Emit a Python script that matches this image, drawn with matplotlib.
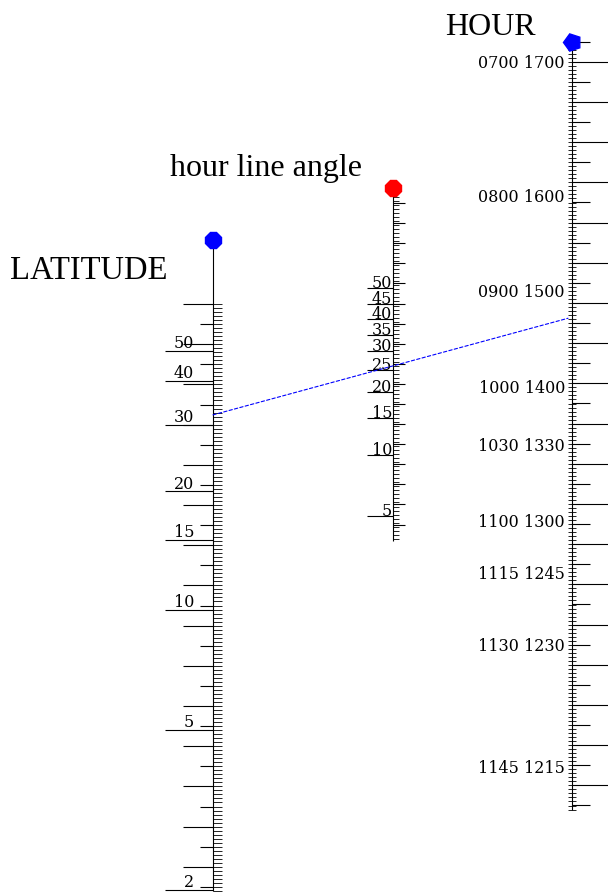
import numpy as np
import matplotlib.pyplot as plt
from matplotlib.patches import ConnectionPatch

# latitude scale, labelled values (degrees)
lat_labels = [50, 40, 30, 20, 15, 10, 5, 2]
# hour line angle scale, labelled values (degrees)
angle_labels = [50, 45, 40, 35, 30, 25, 20, 15, 10, 5]
# hour scale: morning / afternoon labels and hour angle from noon (degrees)
hour_am = ["0700", "0800", "0900", "1000", "1030", "1100", "1115", "1130", "1145"]
hour_pm = ["1700", "1600", "1500", "1400", "1330", "1300", "1245", "1230", "1215"]
hour_angle = [75, 60, 45, 30, 22.5, 15, 11.25, 7.5, 3.75]

# example isopleth: latitude and hour angle
iso_lat = 32.0
iso_hour_angle = 42.5


def u_lat(v):
    return np.log10(np.sin(np.radians(v)))


def u_tan(v):
    return np.log10(np.tan(np.radians(v)))


# layout (pixels)
W, H = 608, 892
LAT_X, MID_X, HOUR_X = 213, 393, 572
TICK_FONT = ["DejaVu Serif"]
TITLE_FONT = ["Liberation Serif", "DejaVu Serif"]

fig = plt.figure(figsize=(W / 100, H / 100), dpi=100)


def scale_axes(origin, px_per_unit):
    # axes whose y data is the scale variable u (log10 of the function)
    ax = fig.add_axes([0, 0, 1, 1], frameon=False)
    ax.set_xlim(0, W)
    ax.set_ylim((origin - H) / px_per_unit, origin / px_per_unit)
    ax.set_axis_off()
    return ax


ax_lat = scale_axes(304, 402)
ax_mid = scale_axes(303.5, 201)
ax_hour = scale_axes(303, 402)

lw = 0.8


def split_steps(top, bottom):
    # ticks every 0.05, split into tenths and odd halves
    steps = np.round(np.arange(top, bottom, -0.05), 2)
    tenth = np.isclose(np.round(steps * 10) / 10, steps)
    return steps[tenth], steps[~tenth]


# ---- latitude scale ----
lat_bottom = u_lat(2)
ax_lat.vlines(LAT_X, lat_bottom - 0.003, 0.16, color="black", lw=lw)
ax_lat.hlines(np.arange(0, lat_bottom - 0.005, -0.01), LAT_X, LAT_X + 9,
              color="black", lw=0.6)
major, half = split_steps(0, lat_bottom)
ax_lat.hlines(major, LAT_X - 30, LAT_X, color="black", lw=lw)
ax_lat.hlines(half, LAT_X - 13, LAT_X, color="black", lw=lw)
ax_lat.hlines(u_lat(np.array(lat_labels)), LAT_X - 48, LAT_X, color="black", lw=lw)
for v in lat_labels:
    ax_lat.annotate(str(v), (LAT_X - 19, u_lat(v)), xytext=(0, 2),
                    textcoords="offset points", ha="right", va="baseline",
                    fontsize=11.5, family=TICK_FONT)
ax_lat.plot(LAT_X, 0.16, marker="8", ms=13, color="blue", mec="blue")

# ---- hour line angle scale ----
mid_top, mid_bottom = 0.55, -1.18
ax_mid.vlines(MID_X, mid_bottom, mid_top + 0.03, color="black", lw=lw)
ax_mid.hlines(np.arange(mid_top, mid_bottom - 0.005, -0.02), MID_X, MID_X + 6,
              color="black", lw=0.6)
ax_mid.hlines(np.arange(0.5, mid_bottom, -0.1), MID_X, MID_X + 12, color="black", lw=lw)
ax_mid.hlines(u_tan(np.array(angle_labels)), MID_X - 26, MID_X, color="black", lw=lw)
for v in angle_labels:
    ax_mid.text(MID_X - 1, u_tan(v), str(v), ha="right", va="baseline",
                fontsize=11.5, family=TICK_FONT)
ax_mid.plot(MID_X, 0.575, marker="8", ms=13, color="red", mec="red")

# ---- hour scale ----
hour_top, hour_bottom = 0.65, -1.26
ax_hour.vlines(HOUR_X, hour_bottom, hour_top, color="black", lw=lw)
ax_hour.hlines(np.arange(hour_top, hour_bottom - 0.005, -0.01), HOUR_X - 4, HOUR_X + 4,
               color="black", lw=0.6)
major, half = split_steps(hour_top, hour_bottom)
ax_hour.hlines(major, HOUR_X, HOUR_X + 36, color="black", lw=lw)
ax_hour.hlines(half, HOUR_X, HOUR_X + 18, color="black", lw=lw)
for am, pm, ha_deg in zip(hour_am, hour_pm, hour_angle):
    ax_hour.annotate(f"{am} {pm}", (HOUR_X - 7, u_tan(ha_deg)), xytext=(0, 4),
                     textcoords="offset points", ha="right", va="baseline",
                     fontsize=11.5, family=TICK_FONT)
ax_hour.plot(HOUR_X, 0.65, marker=(5, 0, 90), ms=13, color="blue", mec="blue")

# ---- isopleth ----
iso = ConnectionPatch(xyA=(LAT_X, u_lat(iso_lat)), coordsA=ax_lat.transData,
                      xyB=(HOUR_X - 4, u_tan(iso_hour_angle)), coordsB=ax_hour.transData,
                      color="blue", lw=0.8, linestyle=(0, (3, 2)))
fig.add_artist(iso)

# ---- titles ----
ax0 = fig.add_axes([0, 0, 1, 1], frameon=False)
ax0.set_xlim(0, W)
ax0.set_ylim(H, 0)
ax0.set_axis_off()
ax0.text(10, 279, "LATITUDE", fontsize=23.5, family=TITLE_FONT, va="baseline")
ax0.text(170, 176, "hour line angle", fontsize=23, family=TITLE_FONT, va="baseline")
ax0.text(445, 35, "HOUR", fontsize=23, family=TITLE_FONT, va="baseline")

fig.savefig("out.png", dpi=100)
